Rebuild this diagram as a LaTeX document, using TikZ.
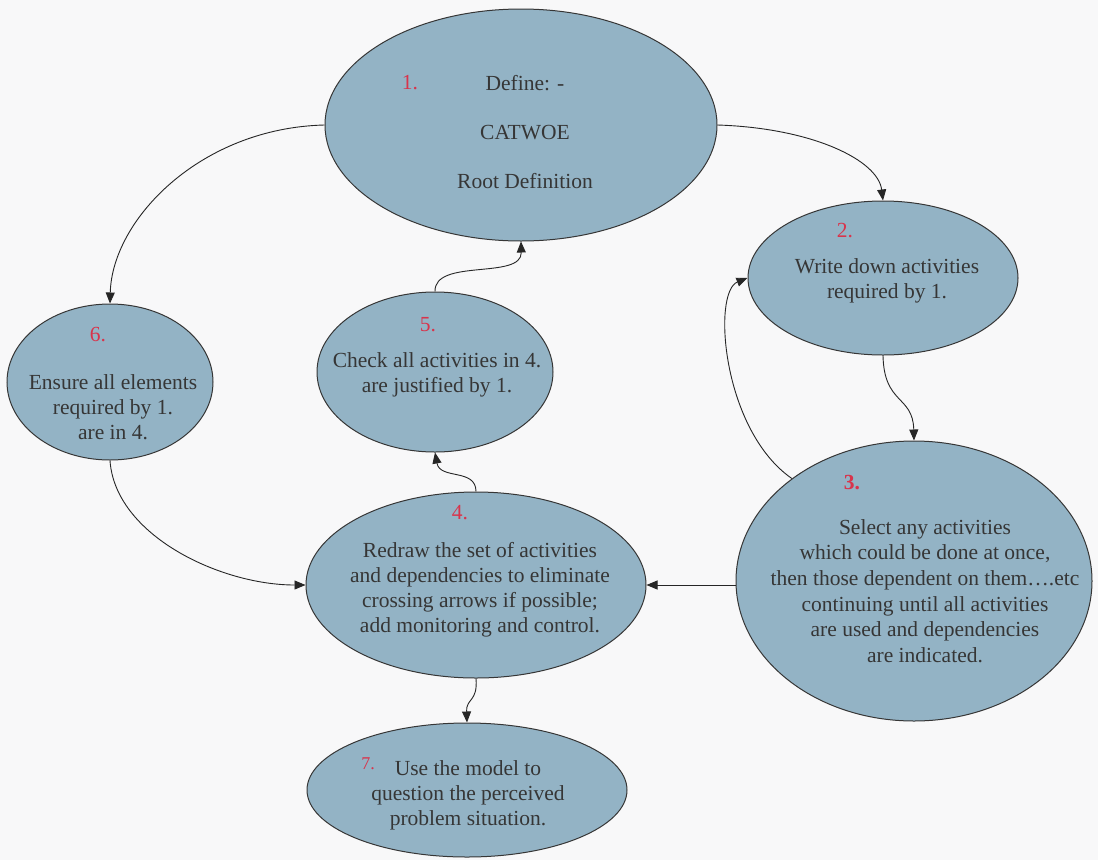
\documentclass[tikz,border=0pt]{standalone}
\usepackage{fontspec}
\setmainfont{Liberation Serif}
\usetikzlibrary{shapes.geometric,arrows.meta}

\definecolor{stepfill}{HTML}{93B3C5}
\definecolor{inkgray}{HTML}{363636}
\definecolor{numred}{HTML}{D8344C}
\definecolor{paper}{HTML}{F8F8F9}

\tikzset{
  stage/.style={ellipse, draw=inkgray, line width=1pt, fill=stepfill, inner sep=0pt},
  body/.style={text=inkgray, align=center, font=\fontsize{21.5}{25}\selectfont},
  num/.style={text=numred, font=\fontsize{21.5}{25}\selectfont},
  flow/.style={draw=black!85, line width=0.9pt, -{Triangle[length=11pt,width=9pt]}},
}

\begin{document}
\begin{tikzpicture}[x=1pt,y=-1pt]
  % page
  \fill[paper] (0,0) rectangle (1098,860);
  \useasboundingbox (0,0) rectangle (1098,860);

  % stages of the method
  \node[stage, minimum width=392pt, minimum height=232pt] (e1) at (521,125) {};
  \node[stage, minimum width=270pt, minimum height=154pt] (e2) at (883,278) {};
  \node[stage, minimum width=356pt, minimum height=280pt] (e3) at (914,581) {};
  \node[stage, minimum width=340pt, minimum height=186pt] (e4) at (476,585) {};
  \node[stage, minimum width=236pt, minimum height=160pt] (e5) at (435,372) {};
  \node[stage, minimum width=206pt, minimum height=156pt] (e6) at (110,382) {};
  \node[stage, minimum width=320pt, minimum height=134pt] (e7) at (467,790) {};

  % numbers
  \node[num] (n1) at (410,83) {1.};
  \node[num] (n2) at (845,231) {2.};
  \node[num] (n3) at (852,483) {\textbf{3.}};
  \node[num] (n4) at (460,513) {4.};
  \node[num] (n5) at (428,325) {5.};
  \node[num] (n6) at (98,335) {6.};
  \node[num, font=\fontsize{18}{20}\selectfont] (n7) at (368,764) {7.};

  % texts
  \node[body] (t1) at (525,132) {Define: -\\[24pt]CATWOE\\[24pt]Root Definition};
  \node[body] (t2) at (887,281) {Write down activities\\required by 1.};
  \node[body, font=\fontsize{21.5}{25.6}\selectfont] (t3) at (925,591) {Select any activities\\
    which could be done at once,\\then those dependent on them\dots.etc\\
    continuing until all activities\\are used and dependencies\\are indicated.};
  \node[body] (t4) at (480,590) {Redraw the set of activities\\and dependencies to eliminate\\
    crossing arrows if possible;\\add monitoring and control.};
  \node[body] (t5) at (437,375) {Check all activities in 4.\\are justified by 1.};
  \node[body] (t6) at (113,407) {Ensure all elements\\required by 1.\\are in 4.};
  \node[body] (t7) at (468,795) {Use the model to\\question the perceived\\problem situation.};

  % connectors
  \draw[flow] (e1.west) .. controls (200,128) and (112,220) .. (e6.north);
  \draw[flow] (e1.east) .. controls (812,128) and (878,160) .. (e2.north);
  \draw[flow] (e2.south) .. controls (884,405) and (913,395) .. (e3.north);
  \draw[flow] (e3.140) .. controls (722,430) and (712,292) .. (e2.west);
  \draw[flow] (e3.west |- e4.east) -- (e4.east);
  \draw[flow] (e6.south) .. controls (115,535) and (220,585) .. (e4.west);
  \draw[flow] (e4.north) .. controls (476,468) and (440,480) .. (e5.south);
  \draw[flow] (e5.north) .. controls (434,258) and (522,280) .. (e1.south);
  \draw[flow] (e4.south) .. controls (478,702) and (466,698) .. (e7.north);
\end{tikzpicture}
\end{document}
